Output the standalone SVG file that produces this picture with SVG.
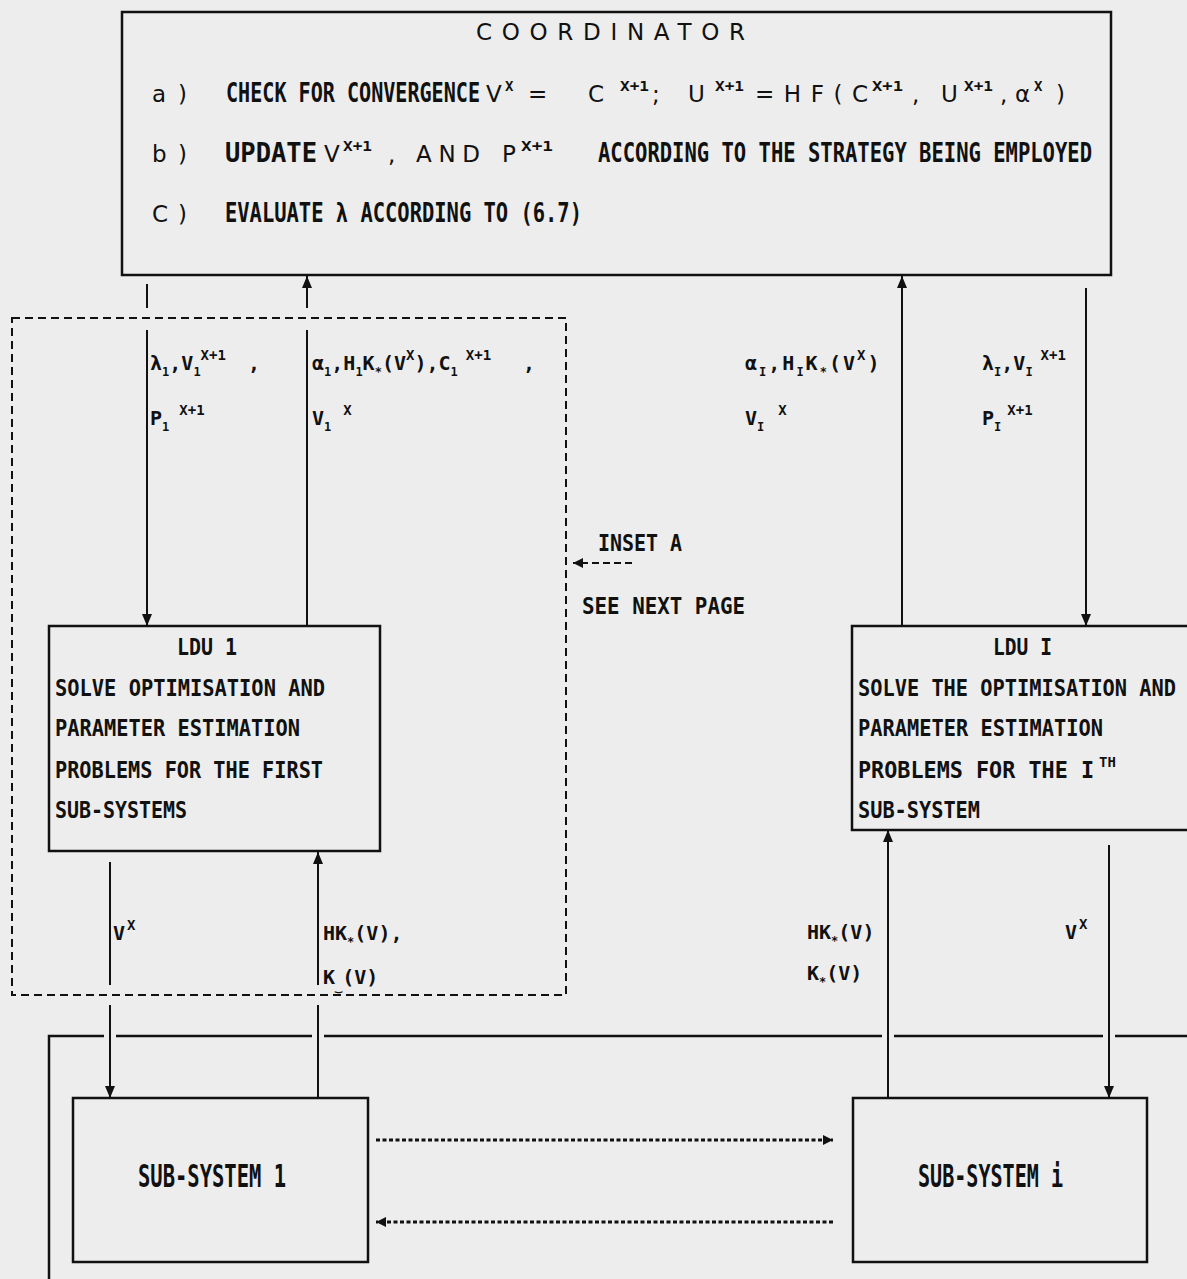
<svg xmlns="http://www.w3.org/2000/svg" width="1187" height="1279" viewBox="0 0 1187 1279">
<style>
.box{fill:none;stroke:#111;stroke-width:2.5}
.ln{fill:none;stroke:#111;stroke-width:2}
.dash{fill:none;stroke:#111;stroke-width:2;stroke-dasharray:8 5}
.dot{fill:none;stroke:#111;stroke-width:3;stroke-dasharray:4 2.5}
.idash{fill:none;stroke:#111;stroke-width:2;stroke-dasharray:7 4}
text{fill:#111;font-family:"DejaVu Sans Mono","DejaVu Sans",monospace}
.t{font-family:"DejaVu Sans",sans-serif;font-size:23px}
.bc{font-size:20.1px;font-weight:bold}
.b{font-size:20.4px;font-weight:bold}
.l{font-size:20px;font-weight:bold}
.sup{font-size:14px;font-weight:bold}
.sub{font-size:12px;font-weight:bold}
.ss{font-size:20.5px;font-weight:bold}
</style>
<defs>
<marker id="ah" markerUnits="userSpaceOnUse" markerWidth="12" markerHeight="10" refX="12" refY="5" orient="auto">
<path d="M0,0 L12,5 L0,10 z" fill="#111"/>
</marker>
<marker id="ahs" markerUnits="userSpaceOnUse" markerWidth="10" markerHeight="10" refX="10" refY="5" orient="auto">
<path d="M0,0 L10,5 L0,10 z" fill="#111"/>
</marker>
</defs>
<rect x="0" y="0" width="1187" height="1279" fill="#ededed"/>

<g id="coordinator">
<rect class="box" x="122" y="12" width="989" height="263"/>
<text class="t" x="476" y="40" textLength="269" lengthAdjust="spacing">COORDINATOR</text>
<text class="t" x="152" y="102" textLength="35" lengthAdjust="spacing">a)</text>
<text class="bc" transform="translate(226 102) scale(1 1.3)" textLength="254" lengthAdjust="spacingAndGlyphs">CHECK FOR CONVERGENCE</text>
<text class="t" x="486" y="102">V</text>
<text class="sup" x="505" y="91">X</text>
<text class="t" x="528" y="102">=</text>
<text class="t" x="588" y="102">C</text>
<text class="sup" x="620" y="91" textLength="29" lengthAdjust="spacingAndGlyphs">X+1</text>
<text class="t" x="652" y="102">;</text>
<text class="t" x="688" y="102">U</text>
<text class="sup" x="715" y="91" textLength="29" lengthAdjust="spacingAndGlyphs">X+1</text>
<text class="t" x="755" y="102" textLength="113" lengthAdjust="spacing">=HF(C</text>
<text class="sup" x="872" y="91" textLength="31" lengthAdjust="spacingAndGlyphs">X+1</text>
<text class="t" x="912" y="102">,</text>
<text class="t" x="941" y="102">U</text>
<text class="sup" x="964" y="91" textLength="29" lengthAdjust="spacingAndGlyphs">X+1</text>
<text class="t" x="1000" y="102">,</text>
<text class="t" x="1015" y="102">α</text>
<text class="sup" x="1034" y="91">X</text>
<text class="t" x="1056" y="102">)</text>

<text class="t" x="152" y="162" textLength="35" lengthAdjust="spacing">b)</text>
<text class="bc" transform="translate(225 162) scale(1 1.3)" textLength="92" lengthAdjust="spacingAndGlyphs">UPDATE</text>
<text class="t" x="324" y="162">V</text>
<text class="sup" x="343" y="151" textLength="29" lengthAdjust="spacingAndGlyphs">X+1</text>
<text class="t" x="388" y="162" textLength="92" lengthAdjust="spacing">, AND</text>
<text class="t" x="502" y="162">P</text>
<text class="sup" x="521" y="151" textLength="32" lengthAdjust="spacingAndGlyphs">X+1</text>
<text class="bc" transform="translate(598 162) scale(1 1.3)" textLength="494" lengthAdjust="spacingAndGlyphs">ACCORDING TO THE STRATEGY BEING EMPLOYED</text>

<text class="t" x="152" y="222" textLength="35" lengthAdjust="spacing">C)</text>
<text class="bc" transform="translate(225 222) scale(1 1.3)" textLength="357" lengthAdjust="spacingAndGlyphs">EVALUATE λ ACCORDING TO (6.7)</text>
</g>

<g id="inset-a">
<rect class="dash" x="12" y="318" width="554" height="677"/>
<text class="b" transform="translate(598 551) scale(1 1.15)" textLength="84" lengthAdjust="spacingAndGlyphs">INSET A</text>
<text class="b" transform="translate(582 614) scale(1 1.15)" textLength="163" lengthAdjust="spacingAndGlyphs">SEE NEXT PAGE</text>
</g>

<g id="ldu1">
<rect class="box" x="49" y="626" width="331" height="225"/>
<text class="b" transform="translate(177 655) scale(1 1.15)" textLength="60" lengthAdjust="spacingAndGlyphs">LDU 1</text>
<text class="b" transform="translate(55 696) scale(1 1.15)" textLength="270" lengthAdjust="spacingAndGlyphs">SOLVE OPTIMISATION AND</text>
<text class="b" transform="translate(55 736) scale(1 1.15)" textLength="245" lengthAdjust="spacingAndGlyphs">PARAMETER ESTIMATION</text>
<text class="b" transform="translate(55 778) scale(1 1.15)" textLength="268" lengthAdjust="spacingAndGlyphs">PROBLEMS FOR THE FIRST</text>
<text class="b" transform="translate(55 818) scale(1 1.15)" textLength="132" lengthAdjust="spacingAndGlyphs">SUB-SYSTEMS</text>
</g>

<g id="lduI">
<rect class="box" x="852" y="626" width="400" height="204"/>
<text class="b" transform="translate(993 655) scale(1 1.15)" textLength="59" lengthAdjust="spacingAndGlyphs">LDU I</text>
<text class="b" transform="translate(858 696) scale(1 1.15)" textLength="318" lengthAdjust="spacingAndGlyphs">SOLVE THE OPTIMISATION AND</text>
<text class="b" transform="translate(858 736) scale(1 1.15)" textLength="245" lengthAdjust="spacingAndGlyphs">PARAMETER ESTIMATION</text>
<text class="b" transform="translate(858 778) scale(1 1.15)" textLength="236" lengthAdjust="spacingAndGlyphs">PROBLEMS FOR THE I</text>
<text class="sup" x="1099" y="767">TH</text>
<text class="b" transform="translate(858 818) scale(1 1.15)" textLength="122" lengthAdjust="spacingAndGlyphs">SUB-SYSTEM</text>
</g>

<g id="plant">
<path class="box" d="M49,1279 V1036 H104 M116,1036 H312 M324,1036 H882 M894,1036 H1103 M1115,1036 H1187"/>
</g>

<g id="subsystem1">
<rect class="box" x="73" y="1098" width="295" height="164"/>
<text class="ss" transform="translate(138 1187) scale(1 1.55)" textLength="148" lengthAdjust="spacingAndGlyphs">SUB-SYSTEM 1</text>
</g>

<g id="subsystemI">
<rect class="box" x="853" y="1098" width="294" height="164"/>
<text class="ss" transform="translate(918 1187) scale(1 1.55)" textLength="145" lengthAdjust="spacingAndGlyphs">SUB-SYSTEM i</text>
</g>

<g id="connectors">
<path class="ln" d="M147,284 V308"/>
<path class="ln" d="M147,330 V626" marker-end="url(#ah)"/>
<path class="ln" d="M307,626 V330"/>
<path class="ln" d="M307,308 V276" marker-end="url(#ah)"/>
<path class="ln" d="M902,626 V276" marker-end="url(#ah)"/>
<path class="ln" d="M1086,288 V626" marker-end="url(#ah)"/>
<path class="ln" d="M110,862 V985"/>
<path class="ln" d="M110,1005 V1098" marker-end="url(#ah)"/>
<path class="ln" d="M318,1098 V1005"/>
<path class="ln" d="M318,985 V852" marker-end="url(#ah)"/>
<path class="ln" d="M888,1098 V830" marker-end="url(#ah)"/>
<path class="ln" d="M1109,845 V1098" marker-end="url(#ah)"/>
<path class="dot" d="M376,1140 H833" marker-end="url(#ahs)"/>
<path class="dot" d="M833,1222 H376" marker-end="url(#ahs)"/>
<path class="idash" d="M632,563 H573" marker-end="url(#ahs)"/>

<text class="l" x="150" y="370">λ<tspan class="sub" dy="6">1</tspan><tspan dy="-6">,V</tspan><tspan class="sub" dy="6">1</tspan><tspan class="sup" dy="-16">X+1</tspan><tspan dy="10" dx="22">,</tspan></text>
<text class="l" x="150" y="425">P<tspan class="sub" dy="6">1</tspan><tspan class="sup" dy="-16" dx="10">X+1</tspan></text>
<text class="l" x="312" y="370">α<tspan class="sub" dy="6">1</tspan><tspan dy="-6">,H</tspan><tspan class="sub" dy="6">1</tspan><tspan dy="-6">K</tspan><tspan class="sub" dy="6">*</tspan><tspan dy="-6">(V</tspan><tspan class="sup" dy="-10">X</tspan><tspan dy="10">),C</tspan><tspan class="sub" dy="6">1</tspan><tspan class="sup" dy="-16" dx="8">X+1</tspan><tspan dy="10" dx="32">,</tspan></text>
<text class="l" x="312" y="425">V<tspan class="sub" dy="6">1</tspan><tspan class="sup" dy="-16" dx="12">X</tspan></text>

<text class="l" x="745" y="370" letter-spacing="2">α<tspan class="sub" dy="6">I</tspan><tspan dy="-6">,H</tspan><tspan class="sub" dy="6">I</tspan><tspan dy="-6">K</tspan><tspan class="sub" dy="6">*</tspan><tspan dy="-6">(V</tspan><tspan class="sup" dy="-10">X</tspan><tspan dy="10">)</tspan></text>
<text class="l" x="745" y="425">V<tspan class="sub" dy="6">I</tspan><tspan class="sup" dy="-16" dx="14">X</tspan></text>
<text class="l" x="982" y="370">λ<tspan class="sub" dy="6">I</tspan><tspan dy="-6">,V</tspan><tspan class="sub" dy="6">I</tspan><tspan class="sup" dy="-16" dx="8">X+1</tspan></text>
<text class="l" x="982" y="425">P<tspan class="sub" dy="6">I</tspan><tspan class="sup" dy="-16" dx="6">X+1</tspan></text>

<text class="l" x="113" y="940">V<tspan class="sup" dy="-10" dx="2">X</tspan></text>
<text class="l" x="323" y="940">HK<tspan class="sub" dy="6">*</tspan><tspan dy="-6">(V),</tspan></text>
<text class="l" x="323" y="984">K<tspan class="sub" dy="6">‿</tspan><tspan dy="-6">(V)</tspan></text>
<text class="l" x="807" y="939">HK<tspan class="sub" dy="6">*</tspan><tspan dy="-6">(V)</tspan></text>
<text class="l" x="807" y="980">K<tspan class="sub" dy="6">*</tspan><tspan dy="-6">(V)</tspan></text>
<text class="l" x="1065" y="939">V<tspan class="sup" dy="-10" dx="2">X</tspan></text>
</g>
</svg>
